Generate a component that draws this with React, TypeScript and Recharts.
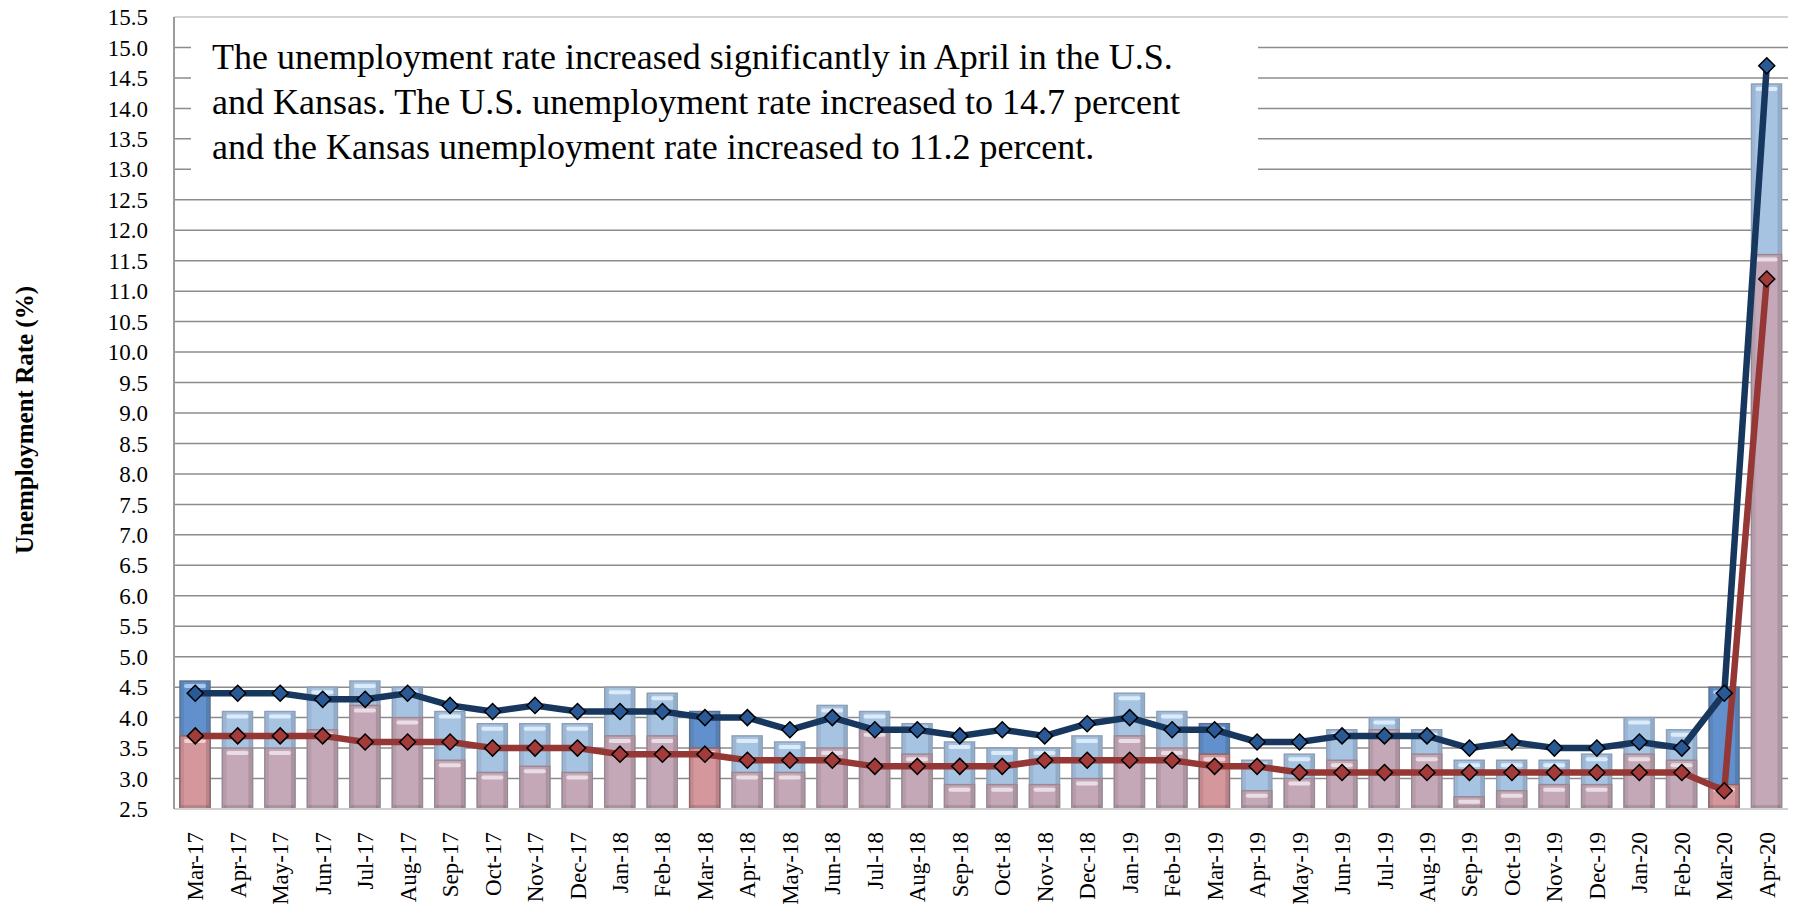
import React from 'react';
import {
  ComposedChart,
  Bar,
  Line,
  XAxis,
  YAxis,
  CartesianGrid,
  ReferenceLine,
} from 'recharts';

const months = [
  'Mar-17', 'Apr-17', 'May-17', 'Jun-17', 'Jul-17', 'Aug-17', 'Sep-17', 'Oct-17', 'Nov-17', 'Dec-17',
  'Jan-18', 'Feb-18', 'Mar-18', 'Apr-18', 'May-18', 'Jun-18', 'Jul-18', 'Aug-18', 'Sep-18', 'Oct-18',
  'Nov-18', 'Dec-18', 'Jan-19', 'Feb-19', 'Mar-19', 'Apr-19', 'May-19', 'Jun-19', 'Jul-19', 'Aug-19',
  'Sep-19', 'Oct-19', 'Nov-19', 'Dec-19', 'Jan-20', 'Feb-20', 'Mar-20', 'Apr-20',
];

// not seasonally adjusted (bars)
const usNsa = [
  4.6, 4.1, 4.1, 4.5, 4.6, 4.5, 4.1, 3.9, 3.9, 3.9,
  4.5, 4.4, 4.1, 3.7, 3.6, 4.2, 4.1, 3.9, 3.6, 3.5,
  3.5, 3.7, 4.4, 4.1, 3.9, 3.3, 3.4, 3.8, 4.0, 3.8,
  3.3, 3.3, 3.3, 3.4, 4.0, 3.8, 4.5, 14.4,
];
const ksNsa = [
  3.7, 3.5, 3.5, 3.8, 4.2, 4.0, 3.3, 3.1, 3.2, 3.1,
  3.7, 3.7, 3.5, 3.1, 3.1, 3.5, 3.8, 3.4, 2.9, 2.9,
  2.9, 3.0, 3.7, 3.5, 3.4, 2.8, 3.0, 3.3, 3.8, 3.4,
  2.7, 2.8, 2.9, 2.9, 3.4, 3.3, 2.9, 11.6,
];

// seasonally adjusted (lines)
const usSa = [
  4.4, 4.4, 4.4, 4.3, 4.3, 4.4, 4.2, 4.1, 4.2, 4.1,
  4.1, 4.1, 4.0, 4.0, 3.8, 4.0, 3.8, 3.8, 3.7, 3.8,
  3.7, 3.9, 4.0, 3.8, 3.8, 3.6, 3.6, 3.7, 3.7, 3.7,
  3.5, 3.6, 3.5, 3.5, 3.6, 3.5, 4.4, 14.7,
];
const ksSa = [
  3.7, 3.7, 3.7, 3.7, 3.6, 3.6, 3.6, 3.5, 3.5, 3.5,
  3.4, 3.4, 3.4, 3.3, 3.3, 3.3, 3.2, 3.2, 3.2, 3.2,
  3.3, 3.3, 3.3, 3.3, 3.2, 3.2, 3.1, 3.1, 3.1, 3.1,
  3.1, 3.1, 3.1, 3.1, 3.1, 3.1, 2.8, 11.2,
];

const yTicks = [
  2.5, 3.0, 3.5, 4.0, 4.5, 5.0, 5.5, 6.0, 6.5, 7.0, 7.5, 8.0, 8.5, 9.0,
  9.5, 10.0, 10.5, 11.0, 11.5, 12.0, 12.5, 13.0, 13.5, 14.0, 14.5, 15.0, 15.5,
];

const data = months.map((month, i) => ({
  month,
  usNsa: usNsa[i],
  ksNsa: ksNsa[i],
  usSa: usSa[i],
  ksSa: ksSa[i],
}));

const FONT = '"Liberation Serif", "DejaVu Serif", serif';

const palette: any = {
  us: {
    light: { fill: '#a7c3e2', edge: '#8d9fb6', hi: '#dcebf9' },
    dark: { fill: '#6190cc', edge: '#5a6f8c', hi: '#a9c9ee' },
  },
  ks: {
    light: { fill: '#c4a8b7', edge: '#9a8792', hi: '#e9dde5' },
    dark: { fill: '#d3979c', edge: '#8e6569', hi: '#f0cfd2' },
  },
};

function GlassBar(props: any) {
  const { x, y, width, height, payload, kind } = props;
  if (!height || height <= 0) return null;
  const pal = palette[kind][payload.month.startsWith('Mar') ? 'dark' : 'light'];
  return (
    <g>
      <rect x={x} y={y} width={width} height={height} fill={pal.fill} stroke={pal.edge} strokeWidth={1.5} />
      <rect x={x + 1} y={y + 1} width={3} height={height - 2} fill="#000" opacity={0.07} />
      <rect x={x + width - 4} y={y + 1} width={3} height={height - 2} fill="#000" opacity={0.12} />
      <rect x={x + 1} y={y + height - 4} width={width - 2} height={3} fill="#000" opacity={0.12} />
      <rect x={x + 4} y={y + 3} width={width - 8} height={4} rx={2} fill={pal.hi} />
    </g>
  );
}

function Diamond(props: any) {
  const { cx, cy, fill } = props;
  if (cx == null || cy == null) return null;
  const r = 8;
  return (
    <path
      d={`M${cx},${cy - r} L${cx + r},${cy} L${cx},${cy + r} L${cx - r},${cy} Z`}
      fill={fill}
      stroke="#000"
      strokeWidth={1.5}
    />
  );
}

function MonthTick(props: any) {
  const { x, y, payload } = props;
  return (
    <text
      x={x}
      y={y}
      transform={`rotate(-90 ${x} ${y})`}
      textAnchor="end"
      dy="0.35em"
      fontFamily={FONT}
      fontSize={23}
      fill="#000"
    >
      {payload.value}
    </text>
  );
}

function YTitle(props: any) {
  const vb = props.viewBox;
  const x = vb.x + 24;
  const y = vb.y + vb.height / 2 + 7;
  return (
    <text
      x={x}
      y={y}
      transform={`rotate(-90 ${x} ${y})`}
      textAnchor="middle"
      dy="0.35em"
      fontFamily={FONT}
      fontSize={25}
      fontWeight="bold"
      fill="#000"
    >
      Unemployment Rate (%)
    </text>
  );
}

export default function App() {
  return (
    <div style={{ position: 'absolute', left: 0, top: 0, width: 1799, height: 908, background: '#fff' }}>
      <ComposedChart
        width={1799}
        height={908}
        data={data}
        margin={{ top: 17, right: 11, bottom: 0, left: 0 }}
        barGap={-30}
      >
        <CartesianGrid
          vertical={false}
          horizontalValues={yTicks.slice(1, -1)}
          stroke="#8c8c8c"
          strokeWidth={1.5}
        />
        <ReferenceLine y={15.5} stroke="#c4c4c4" strokeWidth={1.5} />
        <XAxis
          dataKey="month"
          interval={0}
          height={99}
          tickLine={false}
          tickSize={0}
          tickMargin={23}
          axisLine={{ stroke: '#d0d0d0', strokeWidth: 2 }}
          tick={<MonthTick />}
        />
        <YAxis
          domain={[2.5, 15.5]}
          ticks={yTicks}
          interval={0}
          width={174}
          tickLine={false}
          tickSize={0}
          tickMargin={26}
          axisLine={{ stroke: '#9c9c9c', strokeWidth: 2 }}
          tickFormatter={(v: number) => v.toFixed(1)}
          tick={{ fontFamily: FONT, fontSize: 23, fill: '#000' }}
          label={<YTitle />}
        />
        <YAxis
          yAxisId="right"
          orientation="right"
          domain={[2.5, 15.5]}
          width={0}
          tick={false}
          tickLine={false}
          axisLine={{ stroke: '#c8c8c8', strokeWidth: 1.5 }}
        />
        <Bar
          dataKey="usNsa"
          barSize={30}
          isAnimationActive={false}
          shape={(p: any) => <GlassBar {...p} kind="us" />}
        />
        <Bar
          dataKey="ksNsa"
          barSize={30}
          isAnimationActive={false}
          shape={(p: any) => <GlassBar {...p} kind="ks" />}
        />
        <Line
          dataKey="usSa"
          type="linear"
          stroke="#17375e"
          strokeWidth={6.5}
          isAnimationActive={false}
          activeDot={false}
          dot={(p: any) => <Diamond key={`us-${p.index}`} {...p} fill="#2a5a96" />}
        />
        <Line
          dataKey="ksSa"
          type="linear"
          stroke="#953735"
          strokeWidth={6.5}
          isAnimationActive={false}
          activeDot={false}
          dot={(p: any) => <Diamond key={`ks-${p.index}`} {...p} fill="#a33b3b" />}
        />
      </ComposedChart>
      <div
        style={{
          position: 'absolute',
          left: 191,
          top: 25,
          width: 1067,
          height: 160,
          background: '#fff',
          boxSizing: 'border-box',
          padding: '10px 0 0 21px',
          fontFamily: FONT,
          fontSize: 36,
          lineHeight: '45px',
          color: '#000',
          whiteSpace: 'nowrap',
        }}
      >
        The unemployment rate increased significantly in April in the U.S.
        <br />
        and Kansas. The U.S. unemployment rate increased to 14.7 percent
        <br />
        and the Kansas unemployment rate increased to 11.2 percent.
      </div>
    </div>
  );
}
